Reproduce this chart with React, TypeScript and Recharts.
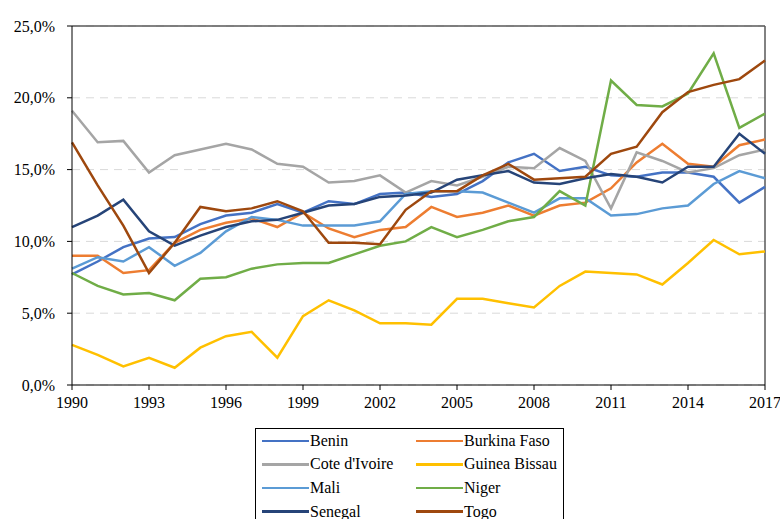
import React from 'react';
import { LineChart, Line, XAxis, YAxis, CartesianGrid, ReferenceLine } from 'recharts';

const years = [
  1990, 1991, 1992, 1993, 1994, 1995, 1996, 1997, 1998, 1999, 2000, 2001, 2002, 2003,
  2004, 2005, 2006, 2007, 2008, 2009, 2010, 2011, 2012, 2013, 2014, 2015, 2016, 2017,
];

const benin = [7.7, 8.6, 9.6, 10.2, 10.3, 11.2, 11.8, 12.0, 12.6, 12.0, 12.8, 12.6, 13.3, 13.4, 13.1, 13.3, 14.2, 15.5, 16.1, 14.9, 15.2, 14.6, 14.5, 14.8, 14.8, 14.5, 12.7, 13.8];
const burkinaFaso = [9.0, 9.0, 7.8, 8.0, 9.9, 10.8, 11.3, 11.6, 11.0, 12.0, 10.9, 10.3, 10.8, 11.0, 12.4, 11.7, 12.0, 12.5, 11.8, 12.5, 12.7, 13.7, 15.5, 16.8, 15.4, 15.2, 16.7, 17.1];
const coteDIvoire = [19.1, 16.9, 17.0, 14.8, 16.0, 16.4, 16.8, 16.4, 15.4, 15.2, 14.1, 14.2, 14.6, 13.4, 14.2, 13.9, 14.5, 15.2, 15.1, 16.5, 15.6, 12.3, 16.2, 15.6, 14.8, 15.1, 16.0, 16.4];
const guineaBissau = [2.8, 2.1, 1.3, 1.9, 1.2, 2.6, 3.4, 3.7, 1.9, 4.8, 5.9, 5.2, 4.3, 4.3, 4.2, 6.0, 6.0, 5.7, 5.4, 6.9, 7.9, 7.8, 7.7, 7.0, 8.5, 10.1, 9.1, 9.3];
const mali = [8.1, 8.9, 8.6, 9.6, 8.3, 9.2, 10.7, 11.7, 11.5, 11.1, 11.1, 11.1, 11.4, 13.3, 13.5, 13.5, 13.4, 12.7, 12.0, 13.0, 13.0, 11.8, 11.9, 12.3, 12.5, 14.0, 14.9, 14.4];
const niger = [7.8, 6.9, 6.3, 6.4, 5.9, 7.4, 7.5, 8.1, 8.4, 8.5, 8.5, 9.1, 9.7, 10.0, 11.0, 10.3, 10.8, 11.4, 11.7, 13.5, 12.5, 21.2, 19.5, 19.4, 20.3, 23.1, 17.9, 18.9];
const senegal = [11.0, 11.8, 12.9, 10.7, 9.7, 10.4, 11.0, 11.4, 11.5, 12.0, 12.5, 12.6, 13.1, 13.2, 13.4, 14.3, 14.6, 14.9, 14.1, 14.0, 14.4, 14.7, 14.5, 14.1, 15.2, 15.2, 17.5, 16.1];
const togo = [16.9, 13.9, 11.1, 7.8, 9.9, 12.4, 12.1, 12.3, 12.8, 12.1, 9.9, 9.9, 9.8, 12.2, 13.5, 13.5, 14.6, 15.4, 14.3, 14.4, 14.5, 16.1, 16.6, 19.0, 20.4, 20.9, 21.3, 22.6];

const xTicks = [1990, 1993, 1996, 1999, 2002, 2005, 2008, 2011, 2014, 2017];
const yTicks = [0, 5, 10, 15, 20, 25];

const series = [
  { key: 'Benin', values: benin, color: '#4472C4' },
  { key: 'Burkina Faso', values: burkinaFaso, color: '#ED7D31' },
  { key: "Cote d'Ivoire", values: coteDIvoire, color: '#A5A5A5' },
  { key: 'Guinea Bissau', values: guineaBissau, color: '#FFC000' },
  { key: 'Mali', values: mali, color: '#5B9BD5' },
  { key: 'Niger', values: niger, color: '#70AD47' },
  { key: 'Senegal', values: senegal, color: '#264478' },
  { key: 'Togo', values: togo, color: '#9E480E' },
];

const data = years.map((year, i) => {
  const row: Record<string, number> = { year };
  series.forEach(s => {
    row[s.key] = s.values[i];
  });
  return row;
});

const font = '"Liberation Serif", "Times New Roman", serif';

const App = () => {
  return (
    <div style={{ position: 'absolute', left: 0, top: 0, width: 780, height: 519, background: '#fff', fontFamily: font, overflow: 'hidden' }}>
      <LineChart
        width={780}
        height={519}
        data={data}
        margin={{ top: 26, right: 15, bottom: 104, left: 0 }}
      >
        <CartesianGrid vertical={false} stroke="#D9D9D9" strokeDasharray="8 6" />
        <XAxis
          dataKey="year"
          type="number"
          domain={[1990, 2017]}
          ticks={xTicks}
          interval={0}
          height={30}
          tickSize={5}
          stroke="#000"
          tick={{ fill: '#000', fontSize: 16, fontFamily: font, dy: 5 }}
        />
        <YAxis
          type="number"
          domain={[0, 25]}
          ticks={yTicks}
          width={72}
          tickSize={5}
          stroke="#000"
          tickFormatter={(v: number) => `${v.toFixed(1).replace('.', ',')}%`}
          tick={{ fill: '#000', fontSize: 16, fontFamily: font, dx: -10 }}
        />
        <ReferenceLine y={25} stroke="#595959" strokeWidth={1.5} />
        <ReferenceLine x={2017} stroke="#595959" strokeWidth={1.5} />
        {series.map(s => (
          <Line
            key={s.key}
            dataKey={s.key}
            stroke={s.color}
            strokeWidth={2.5}
            dot={false}
            isAnimationActive={false}
          />
        ))}
      </LineChart>
      <div
        style={{
          position: 'absolute',
          left: 255,
          top: 428,
          width: 309,
          height: 100,
          border: '1px solid #000',
          boxSizing: 'border-box',
          display: 'grid',
          gridTemplateColumns: '154px 154px',
          gridAutoRows: '23.6px',
          fontSize: 16,
          lineHeight: '18px',
          color: '#000',
        }}
      >
        {series.map(s => (
          <div key={s.key} style={{ display: 'flex', alignItems: 'center', paddingLeft: 6 }}>
            <span style={{ display: 'inline-block', width: 47, height: 2.5, background: s.color, marginRight: 1, flexShrink: 0 }} />
            <span style={{ whiteSpace: 'nowrap' }}>{s.key}</span>
          </div>
        ))}
      </div>
    </div>
  );
};

export default App;
